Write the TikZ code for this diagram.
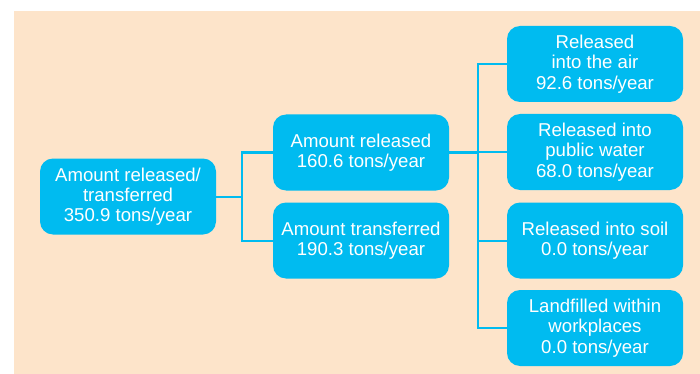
\documentclass[tikz,border=0pt]{standalone}
\usepackage{fontspec}
\setmainfont{Liberation Sans}
\definecolor{flowcyan}{RGB}{0,187,240}
\definecolor{panelpeach}{RGB}{253,228,202}
\begin{document}
\begin{tikzpicture}[x=1pt,y=-1pt,
  flowbox/.style={fill=flowcyan, rounded corners=13pt, minimum width=176pt,
    minimum height=76pt, inner sep=0pt, text=white, align=center,
    font=\fontsize{18.6}{20.3}\selectfont},
  link/.style={draw=flowcyan, line width=2pt}]
  \useasboundingbox (0,0) rectangle (700,374);
  \fill[panelpeach] (14,11) rectangle (700,374);

  % root and first split
  \node[flowbox] (total) at (128,196.5) {Amount released/\\transferred\\350.9 tons/year};
  \node[flowbox] (released) at (361,152.5) {Amount released\\160.6 tons/year};
  \node[flowbox] (transferred) at (361,240.5) {Amount transferred\\190.3 tons/year};

  % destinations of the released amount
  \node[flowbox] (air) at (595,64) {Released\\into the air\\92.6 tons/year};
  \node[flowbox] (water) at (595,152) {Released into\\public water\\68.0 tons/year};
  \node[flowbox] (soil) at (595,240.5) {Released into soil\\0.0 tons/year};
  \node[flowbox] (landfill) at (595,328) {Landfilled within\\workplaces\\0.0 tons/year};

  % connector junctions
  \coordinate (jleft) at (242,196.5);
  \coordinate (jright) at (478,152.5);

  \draw[link] (total.east) -- (total.east -| jleft);
  \draw[link] (released.west) -- (released.west -| jleft)
    -- (transferred.west -| jleft) -- (transferred.west);

  \draw[link] (released.east) -- (released.east -| jright);
  \draw[link] (air.west) -- (air.west -| jright)
    -- (landfill.west -| jright) -- (landfill.west);
  \draw[link] (water.west) -- (water.west -| jright);
  \draw[link] (soil.west) -- (soil.west -| jright);
\end{tikzpicture}
\end{document}
